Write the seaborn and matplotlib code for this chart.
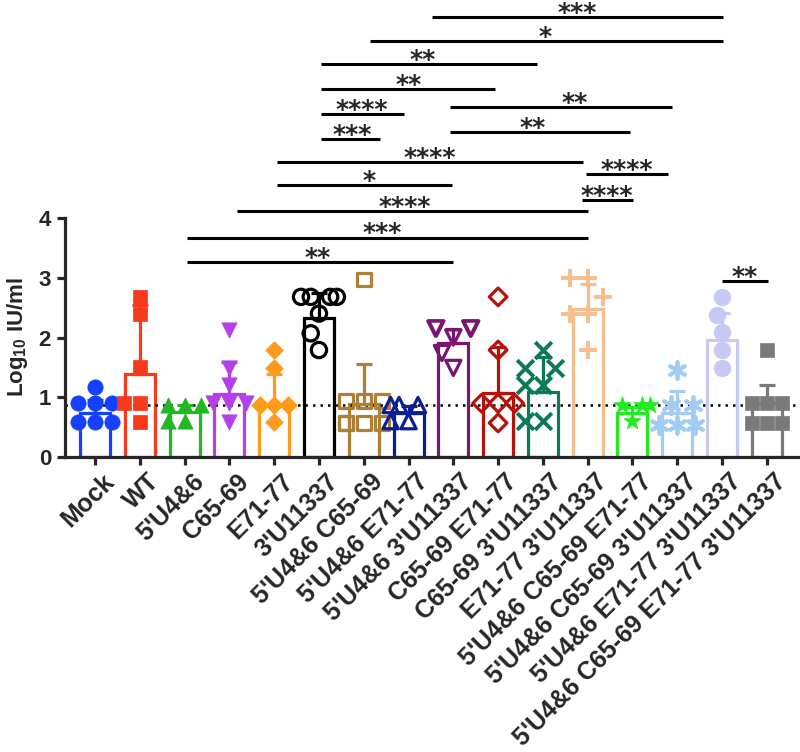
import numpy as np
import pandas as pd
import matplotlib
matplotlib.use("Agg")
import matplotlib.pyplot as plt
import matplotlib.transforms as mtransforms
import seaborn as sns

# groups on the x axis
groups = ["Mock", "WT", "5'U4&6", "C65-69", "E71-77", "3'U11337",
          "5'U4&6 C65-69", "5'U4&6 E71-77", "5'U4&6 3'U11337",
          "C65-69 E71-77", "C65-69 3'U11337", "E71-77 3'U11337",
          "5'U4&6 C65-69 E71-77", "5'U4&6 C65-69 3'U11337",
          "5'U4&6 E71-77 3'U11337", "5'U4&6 C65-69 E71-77 3'U11337"]

# bar heights (mean) and SD
means = [0.73, 1.39, 0.75, 1.05, 0.87, 2.32, 0.88, 0.73,
         1.90, 1.07, 1.09, 2.47, 0.73, 0.74, 1.96, 0.90]
sds = [0.22, 1.15, 0.12, 0.54, 0.52, 0.42, 0.67, 0.12,
       0.25, 0.77, 0.58, 0.43, 0.10, 0.36, 0.45, 0.30]

# individual samples (Log10 IU/ml)
points = [
    [1.17, 0.90, 0.90, 0.90, 0.58, 0.58, 0.58],
    [2.68, 2.40, 1.50, 0.90, 0.90, 0.58],
    [0.87, 0.87, 0.87, 0.60, 0.60],
    [2.12, 1.49, 1.20, 0.90, 0.90, 0.90, 0.58],
    [1.79, 1.49, 0.87, 0.87, 0.87, 0.58],
    [2.68, 2.68, 2.68, 2.68, 2.40, 2.07, 1.79],
    [2.97, 0.93, 0.93, 0.93, 0.57, 0.57, 0.57, 0.57],
    [0.87, 0.87, 0.87, 0.60, 0.60],
    [2.15, 2.15, 2.15, 2.15, 2.00, 1.74, 1.49],
    [2.68, 1.79, 0.90, 0.90, 0.90, 0.57],
    [1.79, 1.49, 1.49, 1.20, 1.20, 0.60, 0.60],
    [3.00, 3.00, 2.68, 2.40, 2.40, 1.79],
    [0.87, 0.87, 0.87, 0.60],
    [1.45, 0.87, 0.87, 0.54, 0.54, 0.54],
    [2.68, 2.37, 2.09, 1.79, 1.49],
    [1.79, 0.90, 0.90, 0.90, 0.57, 0.57, 0.57],
]

lod = 0.87

colors = ["#1540FF", "#F8391C", "#22B822", "#B340E8", "#FF9A1A", "#000000",
          "#AD8035", "#0A1E96", "#7A1670", "#B5120C", "#0D7A55", "#F5BE8C",
          "#1FEB1F", "#A3CCF5", "#C8C8F5", "#7A7A7A"]
markers = ["o", "s", "^", "v", "D", "o", "s", "^", "v", "D", "x", "+",
           "*", (6, 2, 0), "o", "s"]
styles = ["fill"] * 5 + ["open"] * 5 + ["line", "line", "fill", "line", "fill", "fill"]
sizes = [11, 10, 11, 11, 9, 11, 10, 11, 11, 9, 12, 13, 13, 12, 12, 10]

# significance bars: start, end (category units), height, label, label x
sig_x0 = [7.52, 6.14, 5.04, 5.04, 5.04, 5.04, 7.92, 7.92, 4.06, 10.96, 4.06, 10.87, 3.17, 2.05, 2.05, 14.0]
sig_x1 = [14.02, 14.02, 9.87, 8.93, 6.90, 6.36, 12.88, 11.94, 10.89, 12.79, 7.97, 12.01, 11.0, 11.0, 7.99, 15.02]
sig_y = [7.36, 6.96, 6.58, 6.16, 5.74, 5.32, 5.86, 5.44, 4.94, 4.74, 4.55, 4.30, 4.12, 3.67, 3.26, 2.95]
sig_lab = ["***", "*", "**", "**", "****", "***", "**", "**", "****", "****", "*", "****", "****", "***", "**", "**"]
sig_lx = [10.76, 10.04, 7.32, 7.01, 5.96, 5.74, 10.71, 9.78, 7.48, 11.88, 6.12, 11.43, 6.92, 6.41, 4.96, 14.51]

sns.set_style("ticks")
plt.rcParams["font.family"] = ["Liberation Sans", "DejaVu Sans"]
plt.rcParams["font.weight"] = "bold"
plt.rcParams["mathtext.fontset"] = "custom"
plt.rcParams["mathtext.bf"] = "Liberation Sans:bold"
plt.rcParams["mathtext.rm"] = "Liberation Sans:bold"

df_bar = pd.DataFrame({"group": groups, "mean": means})
df_pts = pd.DataFrame({"group": np.repeat(groups, [len(p) for p in points]),
                       "value": np.concatenate(points)})

fig = plt.figure(figsize=(8, 7.52), dpi=100)
ax = fig.add_axes([65 / 800, 295 / 752, 735 / 800, 239 / 752])

sns.barplot(data=df_bar, x="group", y="mean", hue="group", order=groups,
            hue_order=groups, palette=colors, fill=False, linewidth=2.3,
            width=0.67, errorbar=None, legend=False, ax=ax, zorder=2)

for i in range(len(groups)):
    ax.errorbar(i, means[i], yerr=[[0], [sds[i]]], fmt="none", ecolor=colors[i],
                elinewidth=2.3, capsize=5.5, capthick=2.3, zorder=3)

ax.axhline(lod, color="black", ls=(0, (1, 2)), lw=1.8, zorder=2.5)

for i, g in enumerate(groups):
    sub = df_pts[df_pts["group"] == g]
    n_before = len(ax.collections)
    sns.swarmplot(data=sub, x="group", y="value", order=groups, color=colors[i],
                  marker=markers[i], size=sizes[i], warn_thresh=1, ax=ax, zorder=4)
    for coll in ax.collections[n_before:]:
        if styles[i] == "open":
            coll.set_facecolor("none")
            coll.set_edgecolor(colors[i])
            coll.set_linewidth(2.3)
        elif styles[i] == "line":
            coll.set_edgecolor(colors[i])
            coll.set_linewidth(2.8)
        else:
            coll.set_facecolor(colors[i])
            coll.set_edgecolor(colors[i])
            coll.set_linewidth(0.5)

for x0, x1, y, lab, lx in zip(sig_x0, sig_x1, sig_y, sig_lab, sig_lx):
    ax.plot([x0, x1], [y, y], color="black", lw=2.2, clip_on=False,
            solid_capstyle="butt")
    ax.annotate(lab, xy=(lx, y), xytext=(0, -2), textcoords="offset points",
                ha="center", va="baseline", fontsize=18, fontweight="bold",
                family="DejaVu Sans", annotation_clip=False)

ax.set_xlim(-0.67, 15.74)
ax.set_ylim(0, 4)
ax.set_yticks([0, 1, 2, 3, 4])
ax.set_xlabel("")
ax.set_ylabel(r"$\mathbf{Log}_{\mathbf{10}}$ IU/ml", fontsize=16, fontweight="bold")
ax.yaxis.set_label_coords(-0.048, 0.5)
sns.despine(ax=ax)
for side in ["left", "bottom"]:
    ax.spines[side].set_linewidth(2.3)
ax.tick_params(axis="both", direction="out", length=6, width=2.3, labelsize=16)
ax.tick_params(axis="y", pad=4)
ax.tick_params(axis="x", pad=3)
ax.set_xticks(range(len(groups)))
ax.set_xticklabels(groups, rotation=45, ha="right", va="top", fontsize=18,
                   rotation_mode="anchor", fontweight="bold")
offset = mtransforms.ScaledTranslation(7 / 100, 0, fig.dpi_scale_trans)
for lab in ax.get_xticklabels():
    lab.set_transform(lab.get_transform() + offset)
for lab in ax.get_yticklabels():
    lab.set_fontweight("bold")

fig.savefig("out.png", dpi=100)
